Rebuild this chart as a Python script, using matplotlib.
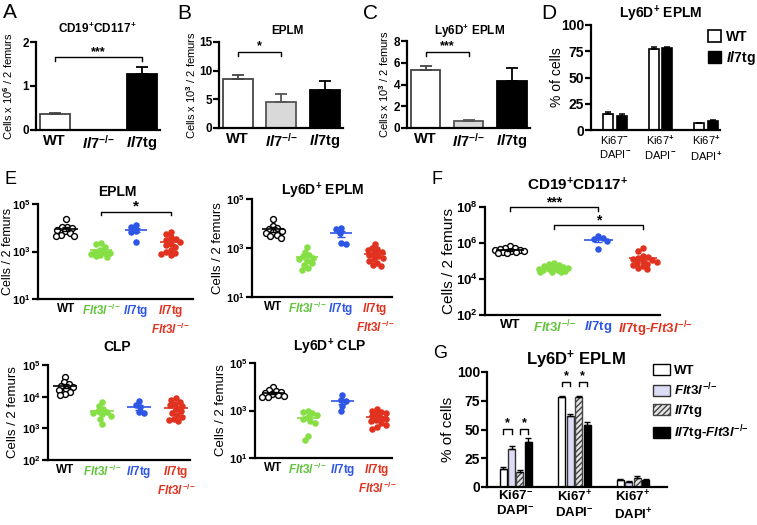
import matplotlib
matplotlib.use('Agg')

import matplotlib.pyplot as plt
import numpy as np
from matplotlib.patches import Patch
from matplotlib.ticker import NullLocator
from matplotlib.transforms import ScaledTranslation

plt.rcParams['font.family'] = ['Liberation Sans', 'DejaVu Sans']
plt.rcParams['font.weight'] = 'bold'
plt.rcParams['mathtext.fontset'] = 'custom'
plt.rcParams['mathtext.rm'] = 'Liberation Sans:bold'
plt.rcParams['mathtext.it'] = 'Liberation Sans:italic:bold'
plt.rcParams['mathtext.bf'] = 'Liberation Sans:bold'

KO = r'^{{-}/{-}}'   # -/- superscript

# ---- data ----
# bar panels A-C (mean, sem)
bar_groups = ['WT', r'$\mathit{Il7}' + KO + '$', r'$\mathit{Il7}$tg']
a_means = [0.37, 0.0, 1.27]
a_err = [0.02, 0.0, 0.17]
b_means = [8.5, 4.5, 6.7]
b_err = [0.8, 1.5, 1.5]
c_means = [5.3, 0.6, 4.3]
c_err = [0.4, 0.15, 1.2]

# panel D, % of cells
ki_groups = [r'Ki67$^{-}$' + '\n' + r'DAPI$^{-}$',
             r'Ki67$^{+}$' + '\n' + r'DAPI$^{-}$',
             r'Ki67$^{+}$' + '\n' + r'DAPI$^{+}$']
d_wt = [15.5, 77.5, 6.5]
d_wt_err = [2.0, 2.0, 0.6]
d_il7 = [13.0, 78.5, 8.5]
d_il7_err = [2.0, 0.5, 1.5]

# panel E / F scatter groups
flt_lab = r'$\mathit{Flt3l}' + KO + '$'
il7_lab = r'$\mathit{Il7}$tg'
dot_groups = ['WT', flt_lab, il7_lab, il7_lab + '\n' + flt_lab]
dot_groups_f = ['WT', flt_lab, il7_lab, r'$\mathit{Il7}$tg-$\mathit{Flt3l}' + KO + '$']

eplm_wt = [23000, 11000, 10500, 10000, 8000, 7000, 6000, 5000, 4500, 4500]
eplm_flt = [2200, 2000, 1500, 1200, 1000, 900, 850, 800, 700, 650, 600]
eplm_il7 = [13500, 11000, 7500, 6500, 2600]
eplm_dko = [6500, 5500, 4000, 3500, 3000, 2500, 2000, 1800, 1500, 1200,
            1000, 900, 800, 700]

ly_eplm_wt = [15000, 8000, 6500, 6000, 5000, 4500, 4000, 3500, 3000, 2500]
ly_eplm_flt = [1100, 700, 500, 450, 400, 350, 300, 250, 200, 150, 130]
ly_eplm_il7 = [6700, 6000, 4200, 1600, 1400]
ly_eplm_dko = [1500, 1000, 900, 800, 700, 600, 500, 450, 400, 350, 300,
               250, 200, 180]

clp_wt = [43000, 30000, 26000, 22000, 20000, 18000, 16000, 14000, 12000, 11000]
clp_flt = [6900, 5000, 4000, 3500, 3200, 3000, 2800, 2500, 2000, 1400]
clp_il7 = [7400, 5500, 4600, 3200, 3000]
clp_dko = [8800, 8000, 7000, 6000, 5500, 5000, 4000, 3500, 3000, 2600,
           2300, 2000, 1800, 1700]

ly_clp_wt = [9700, 7000, 6500, 6000, 5500, 5000, 4500, 4000, 3800, 3600]
ly_clp_flt = [1000, 850, 750, 650, 550, 450, 350, 300, 88, 59]
ly_clp_il7 = [4300, 2700, 2400, 1600, 1000]
ly_clp_dko = [1200, 1000, 900, 800, 700, 600, 500, 450, 400, 350, 300,
              250, 200, 170]

f_wt = [6.6e5, 5.5e5, 5e5, 4.5e5, 4.2e5, 4e5, 3.8e5, 3.5e5, 3.2e5, 3e5,
        2.8e5, 2.7e5]
f_flt = [8e4, 7e4, 6e4, 5e4, 4.5e4, 4.2e4, 4e4, 3.8e4, 3.5e4, 3.3e4, 3e4,
         2.8e4, 2.6e4, 2.4e4, 2.3e4]
f_il7 = [2.3e6, 2e6, 1.6e6, 1.3e6, 4.4e5]
f_dko = [5e5, 3.8e5, 2e5, 1.7e5, 1.5e5, 1.3e5, 1.1e5, 1e5, 9e4, 8e4, 7e4,
         6e4, 5e4, 4e4, 3.5e4]

# panel G, % of cells
g_labels = ['WT', flt_lab, il7_lab, r'$\mathit{Il7}$tg-$\mathit{Flt3l}' + KO + '$']
g_vals = [[15.5, 78.0, 6.0],
          [33.0, 62.0, 4.5],
          [13.0, 78.5, 8.0],
          [39.5, 53.5, 6.5]]
g_err = [[2.0, 1.5, 1.0],
         [2.5, 1.5, 1.0],
         [2.0, 0.5, 1.5],
         [3.0, 3.0, 0.5]]

dot_colors = ['black', '#86df45', '#2d55e6', '#e0321f']
label_colors = ['black', '#62c43c', '#2d55e6', '#e0321f']

# ---- layout helpers ----
W, H = 757, 525
fig = plt.figure(figsize=(W / 100, H / 100), dpi=100)


def px_axes(x0, y0, x1, y1):
    return fig.add_axes([x0 / W, 1 - y1 / H, (x1 - x0) / W, (y1 - y0) / H])


def fig_text(x, y, s, **kw):
    fig.text(x / W, 1 - y / H, s, **kw)


def style(ax, ysize=9, xsize=10):
    for s in ['top', 'right']:
        ax.spines[s].set_visible(False)
    for s in ['left', 'bottom']:
        ax.spines[s].set_linewidth(1.6)
    ax.tick_params(axis='y', width=1.6, length=4, labelsize=ysize, pad=1)
    ax.tick_params(axis='x', length=0, labelsize=xsize, pad=3)


def set_ylab(ax, box, text, size, xc):
    # xc: wanted centre of the rotated label, in figure pixels
    ax.set_ylabel(text, fontsize=size)
    right = xc + 0.55 * size * 100 / 72
    ax.yaxis.set_label_coords((right - box[0]) / (box[2] - box[0]), 0.5)


def bracket(ax, x1, x2, y, ylow, text, ytext, size=9):
    ax.plot([x1, x1, x2, x2], [ylow, y, y, ylow], color='black', lw=1.0,
            clip_on=False)
    ax.text((x1 + x2) / 2, ytext, text, ha='center', va='center',
            fontsize=size, clip_on=False)


def bar_panel(box, means, errs, ylim, yticks, ylabel, ylab_x, title, tpos, sig):
    ax = px_axes(*box)
    style(ax, ysize=8.5, xsize=10.5)
    faces = ['white', '#d9d9d9', 'black']
    edges = ['#444444', '#555555', 'black']
    for i in range(len(means)):
        if means[i] <= 0:
            continue
        ax.bar(i, means[i], 0.68, color=faces[i], edgecolor=edges[i], lw=1.3)
        ax.errorbar(i, means[i], yerr=[[0], [errs[i]]], fmt='none',
                    ecolor=edges[i], elinewidth=1.3, capsize=4, capthick=1.3)
    ax.set_xlim(-0.43, 2.42)
    ax.set_ylim(*ylim)
    ax.set_yticks(yticks)
    ax.set_xticks(range(3))
    ax.set_xticklabels(bar_groups)
    set_ylab(ax, box, ylabel, 8, ylab_x)
    fig_text(tpos[0], tpos[1], title, ha='center', va='center', fontsize=8.5)
    bracket(ax, *sig)
    return ax


def swarm_offsets(vals, px_dec, px_unit, d=5.0, max_units=0.33):
    # simple beeswarm in pixel space, limited to a band around the category
    y = np.log10(vals) * px_dec
    maxpx = max_units * px_unit
    cand = np.arange(-maxpx, maxpx + 0.01, 0.5)
    cand = cand[np.argsort(np.abs(cand), kind='stable')]
    placed_x, placed_y = [], []
    offs = np.zeros(len(vals))
    for i in np.argsort(-y):
        if not placed_x:
            best = 0.0
        else:
            px = np.array(placed_x)
            py = np.array(placed_y)
            dmin = np.array([np.min(np.hypot(c - px, y[i] - py)) for c in cand])
            ok = np.where(dmin >= d)[0]
            best = cand[ok[0]] if len(ok) else cand[np.argmax(dmin)]
        placed_x.append(best)
        placed_y.append(y[i])
        offs[i] = best / px_unit
    return offs


def dot_panel(box, series, xlim, ylim, yticks, labels, title, tpos, ylab_x,
              ylabel_size=9.5, xsize=8.5, ysize=8, tsize=10):
    ax = px_axes(*box)
    style(ax, ysize=ysize, xsize=xsize)
    ax.set_yscale('log')
    ax.set_xlim(*xlim)
    ax.set_ylim(*ylim)
    px_dec = (box[3] - box[1]) / (np.log10(ylim[1]) - np.log10(ylim[0]))
    px_unit = (box[2] - box[0]) / (xlim[1] - xlim[0])
    for i, vals in enumerate(series):
        vals = np.array(vals, dtype=float)
        xs = i + swarm_offsets(vals, px_dec, px_unit)
        if i == 0:
            ax.scatter(xs, vals, s=18, facecolor='white', edgecolor='black',
                       lw=1.0, zorder=3)
        else:
            ax.scatter(xs, vals, s=22, color=dot_colors[i], lw=0, zorder=3)
        m = vals.mean()
        sem = vals.std(ddof=1) / np.sqrt(len(vals))
        ax.hlines(m, i - 0.32, i + 0.32, color=dot_colors[i], lw=1.2, zorder=4)
        ax.errorbar(i, m, yerr=sem, fmt='none', ecolor=dot_colors[i],
                    elinewidth=1.0, capsize=3, capthick=1.0, zorder=4)
    ax.set_yticks(yticks)
    ax.set_yticklabels([r'$10^{%d}$' % int(np.log10(t)) for t in yticks])
    ax.yaxis.set_minor_locator(NullLocator())
    ax.set_xticks(range(4))
    ax.set_xticklabels(labels)
    for t, c in zip(ax.get_xticklabels(), label_colors):
        t.set_color(c)
    set_ylab(ax, box, 'Cells / 2 femurs', ylabel_size, ylab_x)
    fig_text(tpos[0], tpos[1], title, ha='center', va='center', fontsize=tsize)
    return ax


# ---- panel letters ----
for letter, x, y, size in [('A', 3, 3, 15), ('B', 177, 4, 15), ('C', 363, 4, 15),
                           ('D', 541, 4, 15), ('E', 4, 171, 13), ('F', 431, 171, 13),
                           ('G', 433, 345, 13)]:
    fig_text(x, y, letter, ha='left', va='top', fontsize=size, fontweight='normal')

# ---- A, B, C ----
bar_panel((36, 42, 160, 130), a_means, a_err, (0, 2), [0, 1, 2],
          r'Cells x 10$^6$ / 2 femurs', 9, r'CD19$^{+}$CD117$^{+}$', (97, 29),
          (0, 2, 1.66, 1.56, '***', 1.76))
bar_panel((219, 42, 343, 128), b_means, b_err, (0, 15), [0, 5, 10, 15],
          r'Cells x 10$^3$ / 2 femurs', 192, 'EPLM', (287, 31),
          (0, 1, 13.3, 12.5, '*', 14.3))
bar_panel((407, 41, 530, 128), c_means, c_err, (0, 8), [0, 2, 4, 6, 8],
          r'Cells x 10$^3$ / 2 femurs', 385, r'Ly6D$^{+}$ EPLM', (470, 31),
          (0, 1, 7.0, 6.6, '***', 7.55))

# ---- D ----
box_d = (591, 25, 720, 130)
axd = px_axes(*box_d)
style(axd, ysize=10, xsize=8)
xd = np.arange(3)
axd.bar(xd - 0.15, d_wt, 0.22, color='white', edgecolor='black', lw=1.2)
axd.errorbar(xd - 0.15, d_wt, yerr=[np.zeros(3), d_wt_err], fmt='none',
             ecolor='black', elinewidth=1.1, capsize=2.5, capthick=1.1)
axd.bar(xd + 0.15, d_il7, 0.22, color='black', edgecolor='black', lw=1.2)
axd.errorbar(xd + 0.15, d_il7, yerr=[np.zeros(3), d_il7_err], fmt='none',
             ecolor='black', elinewidth=1.1, capsize=2.5, capthick=1.1)
axd.set_xlim(-0.52, 2.3)
axd.set_ylim(0, 100)
axd.set_yticks([0, 25, 50, 75, 100])
axd.set_xticks(xd)
axd.set_xticklabels(ki_groups, fontweight='normal')
set_ylab(axd, box_d, '% of cells', 10, 556)
fig_text(661, 14, r'Ly6D$^{+}$ EPLM', ha='center', va='center', fontsize=10)
axd.legend([Patch(facecolor='white', edgecolor='black', lw=1.2),
            Patch(facecolor='black', edgecolor='black')],
           ['WT', il7_lab], loc='upper left',
           bbox_to_anchor=(708 / W, 1 - 30 / H), bbox_transform=fig.transFigure,
           frameon=False, fontsize=10, handlelength=0.9, handleheight=0.9,
           handletextpad=0.4, labelspacing=0.35, borderpad=0, borderaxespad=0)

# ---- E ----
ax1 = dot_panel((38, 204, 193, 299), [eplm_wt, eplm_flt, eplm_il7, eplm_dko],
                (-0.82, 3.64), (10, 1e5), [1e1, 1e3, 1e5], dot_groups,
                'EPLM', (117, 192), 7, ylabel_size=9)
bracket(ax1, 1, 3, 4.6e4, 3.3e4, '*', 7.5e4, size=11)
dot_panel((252, 199, 392, 297), [ly_eplm_wt, ly_eplm_flt, ly_eplm_il7, ly_eplm_dko],
          (-0.62, 3.5), (10, 1e5), [1e1, 1e3, 1e5], dot_groups,
          r'Ly6D$^{+}$ EPLM', (323, 191), 217)
dot_panel((48, 365, 190, 460), [clp_wt, clp_flt, clp_il7, clp_dko],
          (-0.46, 3.38), (100, 1e5), [1e2, 1e3, 1e4, 1e5], dot_groups,
          'CLP', (117, 347), 12)
dot_panel((255, 363, 392, 458), [ly_clp_wt, ly_clp_flt, ly_clp_il7, ly_clp_dko],
          (-0.52, 3.43), (10, 1e5), [1e1, 1e3, 1e5], dot_groups,
          r'Ly6D$^{+}$ CLP', (330, 347), 220)

# ---- F ----
axf = dot_panel((485, 207, 660, 315), [f_wt, f_flt, f_il7, f_dko],
                (-0.56, 3.39), (100, 1e8), [1e2, 1e4, 1e6, 1e8], dot_groups_f,
                r'CD19$^{+}$CD117$^{+}$', (578, 185), 448, ylabel_size=11,
                xsize=9.5, ysize=9.5, tsize=11)
# the long last label sits a bit to the right of its column
last = axf.get_xticklabels()[-1]
last.set_transform(last.get_transform() + ScaledTranslation(0.13, 0, fig.dpi_scale_trans))
bracket(axf, 0, 2, 1e8, 6e7, '***', 1.9e8, size=10)
bracket(axf, 1, 3, 1e7, 6e6, '*', 1.9e7, size=10)

# ---- G ----
box_g = (487, 372, 667, 487)
axg = px_axes(*box_g)
style(axg, ysize=10, xsize=9.5)
xg = np.arange(3)
g_faces = ['white', '#dcdcf6', '#e6e6e6', 'black']
g_edges = ['black', '#333333', '#444444', 'black']
g_hatch = [None, None, '//////', None]
step = 0.144
for k in range(4):
    pos = xg + (k - 1.5) * step
    axg.bar(pos, g_vals[k], 0.12, color=g_faces[k], edgecolor=g_edges[k],
            hatch=g_hatch[k], lw=1.0)
    axg.errorbar(pos, g_vals[k], yerr=[np.zeros(3), g_err[k]], fmt='none',
                 ecolor='black', elinewidth=1.0, capsize=2, capthick=1.0)
axg.set_xlim(-0.49, 2.58)
axg.set_ylim(0, 100)
axg.set_yticks([0, 25, 50, 75, 100])
axg.set_xticks(xg)
axg.set_xticklabels(ki_groups)
axg.tick_params(axis='x', pad=2)
set_ylab(axg, box_g, '% of cells', 11, 447)
fig_text(576, 360, r'Ly6D$^{+}$ EPLM', ha='center', va='center', fontsize=12)
for gx, yb in [(0, 50.5), (1, 91.5)]:
    bracket(axg, gx - 1.5 * step, gx - 0.5 * step, yb, yb - 4, '*', yb + 5, size=9)
    bracket(axg, gx + 0.5 * step, gx + 1.5 * step, yb, yb - 4, '*', yb + 5, size=9)
g_handles = [Patch(facecolor=g_faces[k], edgecolor=g_edges[k], hatch=g_hatch[k], lw=1.0)
             for k in range(4)]
axg.legend(g_handles, g_labels, loc='upper left',
           bbox_to_anchor=(653 / W, 1 - 364 / H), bbox_transform=fig.transFigure,
           frameon=False, fontsize=9.5, handlelength=1.3, handleheight=0.9,
           handletextpad=0.3, labelspacing=0.35, borderpad=0, borderaxespad=0)

fig.savefig('out.png', dpi=100)
